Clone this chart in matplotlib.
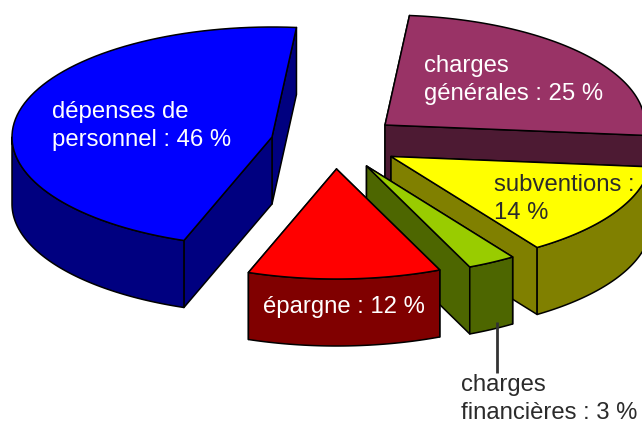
import numpy as np
import matplotlib
matplotlib.use('Agg')
import matplotlib.pyplot as plt
from matplotlib.patches import Polygon

labels = ["dépenses de\npersonnel : 46 %", "charges\ngénérales : 25 %", "subventions :\n14 %",
          "charges\nfinancières : 3 %", "épargne : 12 %"]
shares = [46, 25, 14, 3, 12]

top_colors = ['#0000ff', '#993366', '#ffff00', '#99cc00', '#ff0000']
side_colors = ['#000080', '#4d1a33', '#808000', '#4d6600', '#800000']
text_colors = ['white', 'white', '#2b2b2b', '#2b2b2b', 'white']

# layout, in pixels of the 642x421 picture
center = (272, 137)
explode = [(0, 0), (113, -12), (119, 19.5), (94.5, 29), (64.5, 32)]
label_pos = [(52, 101), (424, 55), (494, 174), (461, 374), (263, 296)]
a, b, h = 260, 110, 67
start = 84.6


def arc(cx, cy, t0, t1, dy=0):
    t = np.radians(np.linspace(t0, t1, 80))
    return np.column_stack([cx + a * np.cos(t), cy + dy - b * np.sin(t)])


def add_poly(ax, pts, color):
    ax.add_patch(Polygon(pts, closed=True, facecolor=color, edgecolor='black', linewidth=1.1, joinstyle='round'))


def draw_slice(ax, cx, cy, t0, t1, top, side):
    # radial walls first, outer wall and top face go over them
    for t in (t0, t1):
        p = arc(cx, cy, t, t)[0]
        add_poly(ax, [(cx, cy), p, (p[0], p[1] + h), (cx, cy + h)], side)
    # outer wall only on the front half of the ellipse (sin < 0)
    lo, hi = min(t0, t1), max(t0, t1)
    for front0, front1 in ((-180, 0), (180, 360)):
        v0, v1 = max(lo, front0), min(hi, front1)
        if v1 > v0:
            add_poly(ax, np.vstack([arc(cx, cy, v0, v1), arc(cx, cy, v1, v0, h)]), side)
    add_poly(ax, np.vstack([[(cx, cy)], arc(cx, cy, t0, t1)]), top)


fig = plt.figure(figsize=(6.42, 4.21), dpi=100)
ax = fig.add_axes([0, 0, 1, 1])
ax.set_xlim(0, 642)
ax.set_ylim(421, 0)
ax.axis('off')

# first slice goes round the left side, the others clockwise from the same start
t = start
angles = [(start, start + shares[0] * 3.6)]
for s in shares[1:]:
    angles.append((t, t - s * 3.6))
    t -= s * 3.6

for i in range(len(shares)):
    cx = center[0] + explode[i][0]
    cy = center[1] + explode[i][1]
    draw_slice(ax, cx, cy, angles[i][0], angles[i][1], top_colors[i], side_colors[i])

ax.plot([497, 497], [322, 373], color='#333333', lw=2, solid_capstyle='butt')

for i in range(len(labels)):
    ax.text(label_pos[i][0], label_pos[i][1], labels[i], color=text_colors[i], ha='left', va='top',
            fontsize=17.2, family='Liberation Sans', linespacing=1.35)

fig.savefig('out.png', dpi=100)
